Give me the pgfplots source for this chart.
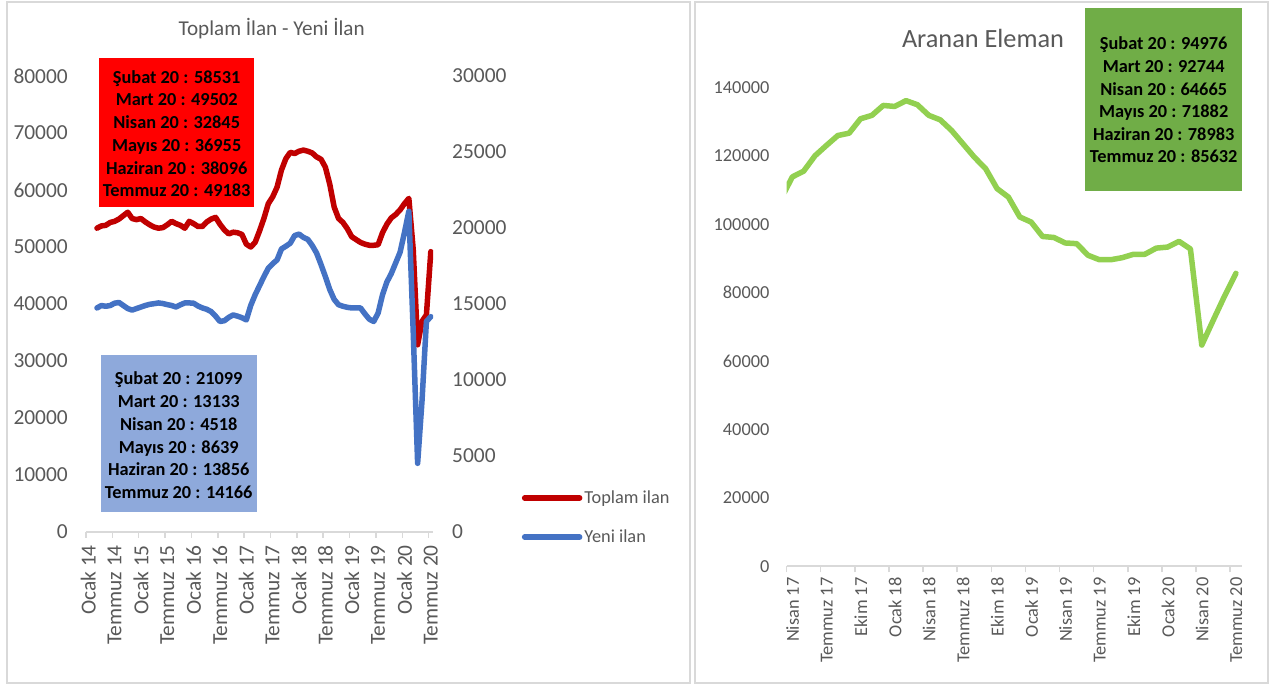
\documentclass[border=0pt]{standalone}
\usepackage{fontspec}
\setmainfont{Carlito}
\usepackage{pgfplots}
\pgfplotsset{compat=1.18}
\usepackage{pgfplotstable}

\definecolor{toplam}{HTML}{C00000}
\definecolor{yeni}{HTML}{4472C4}
\definecolor{aranan}{HTML}{92D050}
\definecolor{boxred}{HTML}{FF0000}
\definecolor{boxblue}{HTML}{8EA9DB}
\definecolor{boxgreen}{HTML}{70AD47}
\definecolor{txtgray}{HTML}{595959}
\definecolor{linegray}{HTML}{D9D9D9}

% m = month index (0 = Ocak 14), v = Toplam ilan
\pgfplotstableread{
m v
2 53300
3 53700
4 53800
5 54300
6 54500
7 54900
8 55500
9 56100
10 55000
11 54800
12 55000
13 54400
14 53900
15 53500
16 53300
17 53400
18 53900
19 54500
20 54100
21 53800
22 53300
23 54500
24 54100
25 53600
26 53600
27 54400
28 54900
29 55200
30 54000
31 53000
32 52300
33 52600
34 52500
35 52200
36 50500
37 50000
38 50800
39 52800
40 55000
41 57600
42 58800
43 60500
44 63500
45 65500
46 66600
47 66400
48 66800
49 67000
50 66800
51 66500
52 65800
53 65400
54 64000
55 61000
56 57000
57 55000
58 54300
59 53200
60 51800
61 51300
62 50800
63 50500
64 50300
65 50300
66 50400
67 52500
68 54000
69 55100
70 55700
71 56500
72 57600
73 58531
74 49502
75 32845
76 36955
77 38096
78 49183
}\redtab

% Yeni ilan (right axis)
\pgfplotstableread{
m v
2 14740
3 14900
4 14850
5 14900
6 15050
7 15100
8 14900
9 14700
10 14600
11 14700
12 14800
13 14900
14 14980
15 15020
16 15070
17 15030
18 14960
19 14900
20 14800
21 14950
22 15070
23 15070
24 15050
25 14870
26 14740
27 14650
28 14500
29 14200
30 13850
31 13900
32 14120
33 14280
34 14200
35 14100
36 13950
37 14900
38 15600
39 16200
40 16800
41 17350
42 17650
43 17900
44 18620
45 18800
46 19000
47 19500
48 19600
49 19380
50 19250
51 18850
52 18350
53 17600
54 16800
55 15950
56 15300
57 14950
58 14850
59 14780
60 14740
61 14740
62 14740
63 14350
64 14000
65 13850
66 14400
67 15600
68 16450
69 17000
70 17700
71 18400
72 19700
73 21099
74 13133
75 4518
76 8639
77 13856
78 14166
}\bluetab

% Aranan Eleman, m = 0 is Nisan 17
\pgfplotstableread{
m v
-1 107300
0 113800
1 115500
2 120000
3 123000
4 125900
5 126600
6 130800
7 131800
8 134700
9 134400
10 136100
11 134900
12 131800
13 130500
14 127400
15 123500
16 119600
17 116200
18 110400
19 107900
20 102100
21 100600
22 96400
23 96100
24 94500
25 94300
26 90900
27 89600
28 89600
29 90200
30 91200
31 91200
32 93000
33 93300
34 94976
35 92744
36 64665
37 71882
38 78983
39 85632
}\greentab

\pgfplotsset{
  excel/.style={
    scale only axis,
    anchor=south west,
    /pgf/number format/fixed,
    /pgf/number format/precision=0,
    /pgf/number format/assume math mode=true,
    /pgf/number format/1000 sep={},
    scaled y ticks=false,
    axis x line*=bottom,
    x axis line style={draw=linegray, line width=2bp, -},
    xtick style={draw=linegray, line width=1.5bp},
    tick align=outside,
    major tick length=6bp,
    ytick style={draw=none},
    tick label style={text=txtgray},
    yticklabel style={inner sep=0pt},
  },
  serie/.style={line width=5.5bp, line join=round, line cap=round},
}

\begin{document}
\begin{tikzpicture}
\path[fill=white] (0bp,0bp) rectangle (1273bp,687bp);
\draw[linegray, line width=2.5bp] (7bp,4bp) rectangle (690bp,685bp);
\draw[linegray, line width=2.5bp] (695bp,4bp) rectangle (1268bp,685bp);

% left panel, primary axis
\begin{axis}[excel, at={(86bp,155bp)}, width=347bp, height=456bp,
  xmin=0, xmax=79, ymin=0, ymax=80000,
  xtick={0,6,...,78},
  xticklabels={Ocak 14,Temmuz 14,Ocak 15,Temmuz 15,Ocak 16,Temmuz 16,Ocak 17,Temmuz 17,Ocak 18,Temmuz 18,Ocak 19,Temmuz 19,Ocak 20,Temmuz 20},
  ytick={0,10000,...,80000},
  axis y line*=left, y axis line style={draw=none},
  tick label style={font=\fontsize{21.5}{24}\selectfont},
  xticklabel style={xshift=2.2bp, yshift=-7bp, rotate=90, anchor=east, inner sep=0pt},
  yticklabel style={anchor=east, xshift=-12bp},
]
\addplot[toplam, serie] table[x expr=\thisrow{m}+0.5, y=v] {\redtab};
\end{axis}

% left panel, secondary axis
\begin{axis}[excel, at={(86bp,155bp)}, width=347bp, height=456bp,
  xmin=0, xmax=79, ymin=0, ymax=30000,
  axis x line=none, axis y line*=right, y axis line style={draw=none},
  ytick={0,5000,...,30000},
  tick label style={font=\fontsize{21.5}{24}\selectfont},
  yticklabel style={anchor=west, xshift=13bp},
  legend style={at={(1.2556,0.0318)}, anchor=west, draw=none, fill=none,
    inner sep=0pt, font=\fontsize{18.4}{20}\selectfont, text=txtgray,
    row sep=21bp},
  legend cell align=left,
  legend image code/.code={\draw[#1] (-2bp,0bp) -- (53bp,0bp);},
]
\addlegendimage{toplam, serie}
\addlegendentry{Toplam ilan}
\addplot[yeni, serie] table[x expr=\thisrow{m}+0.5, y=v] {\bluetab};
\addlegendentry{Yeni ilan}
\end{axis}

% right panel
\begin{axis}[excel, at={(786.6bp,120.7bp)}, width=455bp, height=479bp,
  xmin=0, xmax=40, ymin=0, ymax=140000,
  xtick={0,3,...,39},
  xticklabels={Nisan 17,Temmuz 17,Ekim 17,Ocak 18,Nisan 18,Temmuz 18,Ekim 18,Ocak 19,Nisan 19,Temmuz 19,Ekim 19,Ocak 20,Nisan 20,Temmuz 20},
  ytick={0,20000,...,140000},
  axis y line*=left, y axis line style={draw=none},
  tick label style={font=\fontsize{18.4}{20}\selectfont},
  xticklabel style={xshift=6bp, yshift=-5bp, rotate=90, anchor=east, inner sep=0pt},
  yticklabel style={anchor=east, xshift=-11bp},
]
\addplot[aranan, serie] table[x expr=\thisrow{m}+0.5, y=v] {\greentab};
\end{axis}

% titles
\node[text=txtgray, font=\fontsize{21.2}{24}\selectfont] at (271.7bp,658bp) {Toplam İlan - Yeni İlan};
\node[text=txtgray, font=\fontsize{26.4}{30}\selectfont] at (983bp,649bp) {Aranan Eleman};

% annotation boxes
\fill[boxred] (99.3bp,479.7bp) rectangle (254bp,628.7bp);
\node[align=center, font=\fontsize{18.4}{22.8}\selectfont\bfseries] at (176.7bp,553.3bp)
  {Şubat 20 : 58531\\Mart 20 : 49502\\Nisan 20 : 32845\\Mayıs 20 : 36955\\Haziran 20 : 38096\\Temmuz 20 : 49183};
\fill[boxblue] (100.7bp,175.3bp) rectangle (256.7bp,332bp);
\node[align=center, font=\fontsize{18.4}{22.8}\selectfont\bfseries] at (178.7bp,251.7bp)
  {Şubat 20 : 21099\\Mart 20 : 13133\\Nisan 20 : 4518\\Mayıs 20 : 8639\\Haziran 20 : 13856\\Temmuz 20 : 14166};
\fill[boxgreen] (1085bp,496bp) rectangle (1242.3bp,678.7bp);
\node[align=center, font=\fontsize{18.4}{22.7}\selectfont\bfseries] at (1163.7bp,587bp)
  {Şubat 20 : 94976\\Mart 20 : 92744\\Nisan 20 : 64665\\Mayıs 20 : 71882\\Haziran 20 : 78983\\Temmuz 20 : 85632};
\end{tikzpicture}
\end{document}
